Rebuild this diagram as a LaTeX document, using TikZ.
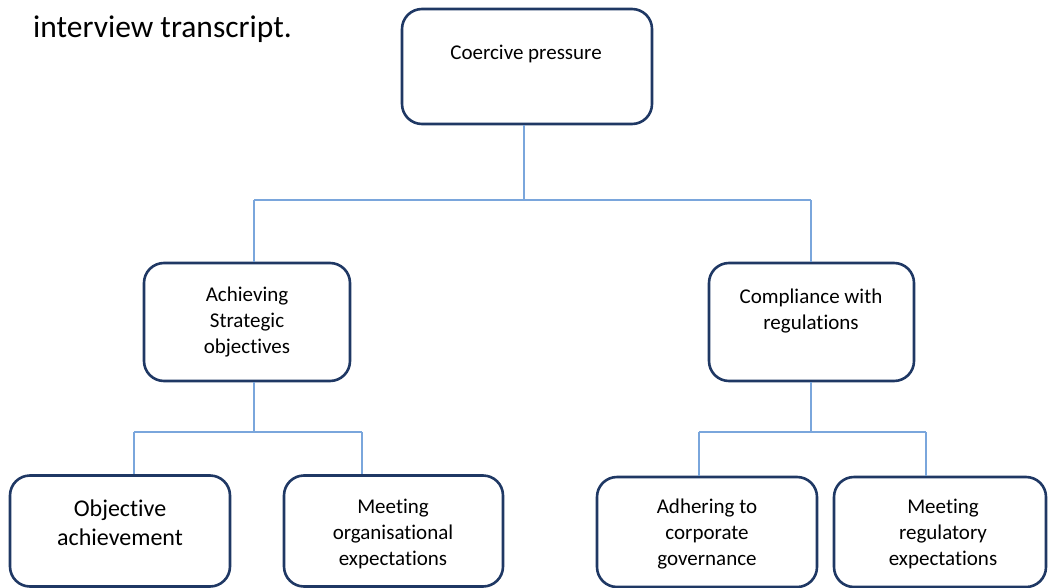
\documentclass[tikz,border=0pt]{standalone}
\usepackage{fontspec}
\setmainfont{Carlito}[Ligatures=NoCommon]
\definecolor{boxline}{HTML}{1F3864}
\definecolor{linkline}{HTML}{7AA6DC}
\tikzset{
  box/.style={draw=boxline, line width=2.6pt, rounded corners=20pt, fill=white, inner sep=0pt},
  lbl/.style={align=center, anchor=base, inner sep=0pt, font=\fontsize{21}{26}\selectfont},
  biglbl/.style={lbl, font=\fontsize{24}{28.5}\selectfont},
  link/.style={draw=linkline, line width=1.4pt}
}
\begin{document}
\begin{tikzpicture}[x=1pt, y=-1pt]
\useasboundingbox (0,0) rectangle (1048,588);

% caption fragment above the chart
\node[anchor=base west, inner sep=0pt, font=\fontsize{31.5}{38}\selectfont] (caption) at (33,38) {interview transcript.};

% boxes
\node[box, minimum width=250pt, minimum height=115pt] (top) at (527,66.5) {};
\node[box, minimum width=206pt, minimum height=118pt] (strat) at (247,322) {};
\node[box, minimum width=205pt, minimum height=118pt] (comp) at (811.5,322) {};
\node[box, minimum width=220pt, minimum height=111pt] (objach) at (120,531) {};
\node[box, minimum width=219pt, minimum height=111pt] (orgexp) at (393.5,531) {};
\node[box, minimum width=220pt, minimum height=110pt] (corpgov) at (707,532) {};
\node[box, minimum width=212pt, minimum height=110pt] (regexp) at (940,532) {};

% labels (base anchor sits on the last line)
\node[lbl] (ttop) at (526,60) {Coercive pressure};
\node[lbl] (tstrat) at (247,353) {Achieving\\Strategic\\objectives};
\node[lbl] (tcomp) at (811,329) {Compliance with\\regulations};
\node[biglbl] (tobj) at (120,545) {Objective\\achievement};
\node[lbl] (torg) at (393,565) {Meeting\\organisational\\expectations};
\node[lbl] (tgov) at (707,565) {Adhering to\\corporate\\governance};
\node[lbl] (treg) at (943,565) {Meeting\\regulatory\\expectations};

% junction points of the tree
\coordinate (j0) at (524,200);
\coordinate (jl) at (254,200);
\coordinate (jr) at (811,200);
\coordinate (kl) at (254,432);
\coordinate (kl1) at (134,432);
\coordinate (kl2) at (362,432);
\coordinate (kr) at (811,432);
\coordinate (kr1) at (699,432);
\coordinate (kr2) at (926,432);

% connectors
\path[link] (top.south -| j0) -- (j0);
\path[link] (jl) -- (jr);
\path[link] (jl) -- (jl |- strat.north);
\path[link] (jr) -- (jr |- comp.north);
\path[link] (strat.south -| kl) -- (kl);
\path[link] (kl1) -- (kl2);
\path[link] (kl1) -- (kl1 |- objach.north);
\path[link] (kl2) -- (kl2 |- orgexp.north);
\path[link] (comp.south -| kr) -- (kr);
\path[link] (kr1) -- (kr2);
\path[link] (kr1) -- (kr1 |- corpgov.north);
\path[link] (kr2) -- (kr2 |- regexp.north);
\end{tikzpicture}
\end{document}
